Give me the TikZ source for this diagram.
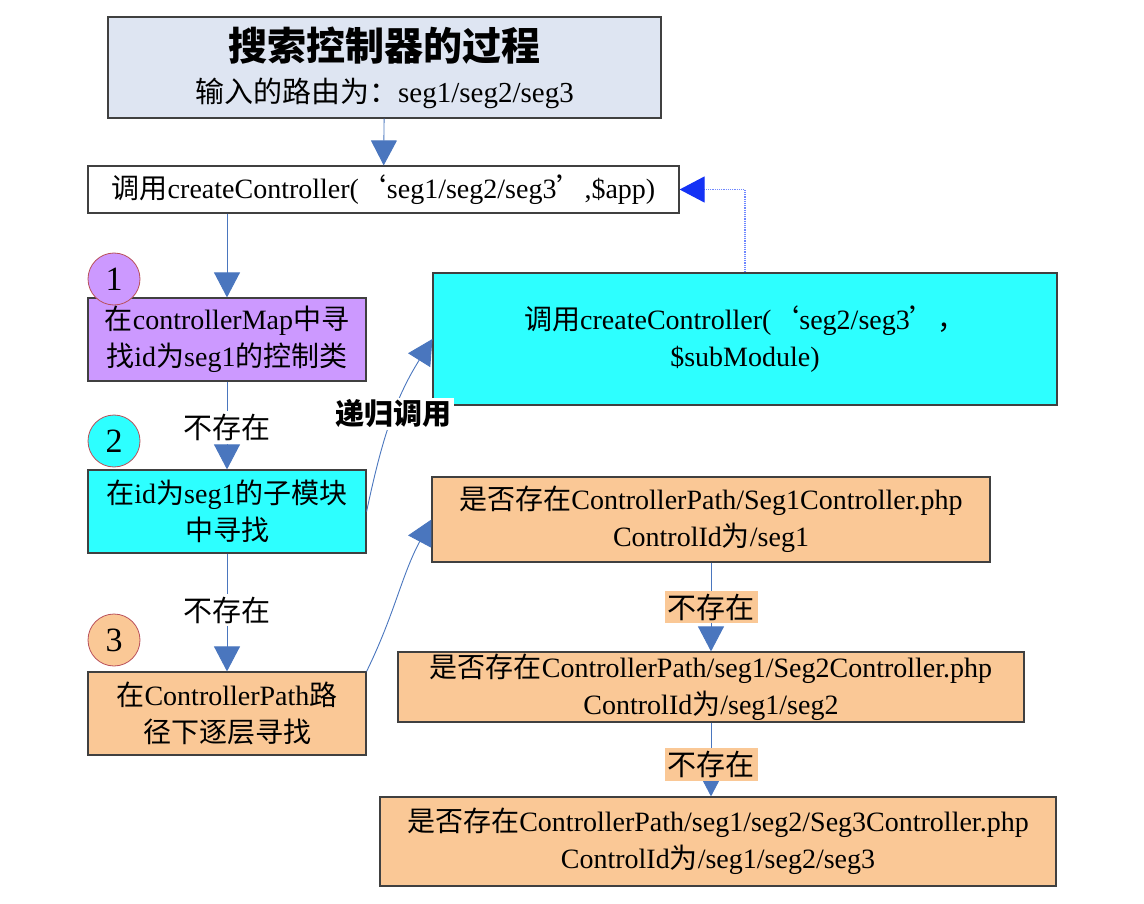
\documentclass[tikz,border=0pt]{standalone}
\usepackage{fontspec}
\setmainfont{Liberation Serif}
\newfontfamily\cjk{Noto Sans CJK SC}
\newcommand{\zh}[1]{{\cjk #1}}
\usetikzlibrary{arrows.meta}

\definecolor{flowblue}{RGB}{74,118,190}
\definecolor{dotblue}{RGB}{20,50,245}
\definecolor{dotline}{RGB}{110,135,255}
\definecolor{boxline}{RGB}{64,64,64}
\definecolor{titlefill}{RGB}{222,229,242}
\definecolor{mapfill}{RGB}{204,153,255}
\definecolor{subfill}{RGB}{45,255,255}
\definecolor{pathfill}{RGB}{250,200,150}
\definecolor{ringline}{RGB}{185,80,90}

\tikzset{
  box/.style={draw=boxline, line width=1.2pt, inner sep=0pt, align=center,
    font=\fontsize{28}{37}\selectfont},
  num/.style={circle, draw=ringline, line width=0.8pt, minimum size=52pt,
    inner sep=0pt, font=\fontsize{34}{34}\selectfont},
  flow/.style={draw=flowblue, line width=0.9pt,
    -{Triangle[width=26pt,length=25pt,fill=flowblue]}},
  nolabel/.style={fill=white, inner sep=3pt, font=\fontsize{29}{29}\selectfont}
}

\begin{document}
\begin{tikzpicture}[x=1pt, y=-1pt]
  \useasboundingbox (0,0) rectangle (1144,904);

  % title and first call
  \node[box, fill=titlefill, minimum width=553pt, minimum height=101pt] (title) at (384.5,67.5)
    {{\fontsize{39}{42}\selectfont\cjk\bfseries 搜索控制器的过程}\\[5pt]
     {\fontsize{29}{32}\selectfont\zh{输入的路由为：}seg1/seg2/seg3}};
  \node[box, fill=white, minimum width=591pt, minimum height=47pt] (callapp) at (383.5,189.5)
    {\zh{调用}createController(\zh{‘}seg1/seg2/seg3\zh{’},\$app)};
  \draw[flow] (title) -- (callapp);

  % left column
  \node[box, fill=mapfill, minimum width=278pt, minimum height=83pt] (mapbox) at (227,339.5)
    {\zh{在}controllerMap\zh{中寻}\\\zh{找}id\zh{为}seg1\zh{的控制类}};
  \node[box, fill=subfill, minimum width=278pt, minimum height=83pt] (subbox) at (227,511.5)
    {\zh{在}id\zh{为}seg1\zh{的子模块}\\\zh{中寻找}};
  \node[box, fill=pathfill, minimum width=278pt, minimum height=83pt] (pathbox) at (227,713.5)
    {\zh{在}ControllerPath\zh{路}\\\zh{径下逐层寻找}};

  \node[num, fill=mapfill] (nummap) at (114,279) {1};
  \node[num, fill=subfill] (numsub) at (114,441) {2};
  \node[num, fill=pathfill] (numpath) at (114,640) {3};

  \draw[flow] (callapp.south -| mapbox) -- (mapbox);
  \draw[flow] (mapbox) -- node[nolabel, pos=0.52] {\zh{不存在}} (subbox);
  \draw[flow] (subbox) -- node[nolabel, pos=0.48] {\zh{不存在}} (pathbox);

  % recursion
  \node[box, fill=subfill, minimum width=624pt, minimum height=132pt] (recurse) at (745,339)
    {\zh{调用}createController(\zh{‘}seg2/seg3\zh{’，}\\\$subModule)};
  \draw[flow] (subbox.east) to[out=78, in=-122]
    node[fill=white, inner sep=2pt, pos=0.55, font=\fontsize{29}{29}\selectfont\cjk\bfseries] {递归调用}
    (recurse.west);
  \draw[dotline, line width=1.2pt, densely dotted,
    -{Triangle[width=26pt,length=25pt,color=dotblue]}] (recurse.north) |- (callapp.east);

  % controller files
  \node[box, fill=pathfill, minimum width=558pt, minimum height=85pt] (segone) at (711,519.5)
    {\zh{是否存在}ControllerPath/Seg1Controller.php\\ControlId\zh{为}/seg1};
  \node[box, fill=pathfill, minimum width=626pt, minimum height=70pt] (segtwo) at (711,687)
    {\zh{是否存在}ControllerPath/seg1/Seg2Controller.php\\ControlId\zh{为}/seg1/seg2};
  \node[box, fill=pathfill, minimum width=676pt, minimum height=89pt] (segthree) at (718,841.5)
    {\zh{是否存在}ControllerPath/seg1/seg2/Seg3Controller.php\\ControlId\zh{为}/seg1/seg2/seg3};

  \draw[flow] (pathbox.north east) to[out=64, in=-118] (segone.west);
  \draw[flow] (segone) -- node[nolabel, fill=pathfill, pos=0.5] {\zh{不存在}} (segtwo);
  \draw[flow] (segtwo.south) -- node[nolabel, fill=pathfill, pos=0.57] {\zh{不存在}} (segtwo.south |- segthree.north);
\end{tikzpicture}
\end{document}
